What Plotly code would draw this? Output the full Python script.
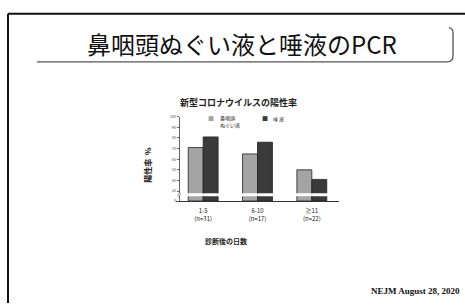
import plotly.graph_objects as go

W, H = 465, 305

categories = ["1-5<br>(n=31)", "6-10<br>(n=17)", "≧11<br>(n=22)"]
nasal = [71, 65, 50]
saliva = [81, 76, 41]
series_names = ["鼻咽頭<br>ぬぐい液", "唾 液"]
ytick_vals = [30, 40, 50, 60, 70, 80, 90, 100]
ytick_text = ["30", "40", "50", "60", "70", "80", "90", "100"]

LIGHT = "#a4a4a4"
DARK = "#3a3a3a"
JP = "Noto Sans CJK JP"


def px(x):
    return x / W


def py(y):
    return 1 - y / H


fig = go.Figure()
for name, vals, col in [(series_names[0], nasal, LIGHT), (series_names[1], saliva, DARK)]:
    # upper segment (broken axis part)
    fig.add_trace(go.Bar(x=categories, y=vals, name=name, marker=dict(color=col, line=dict(color="#222", width=0.8)),
                         xaxis="x2", yaxis="y2", showlegend=False))
    # lower segment near zero
    fig.add_trace(go.Bar(x=categories, y=vals, name=name, marker=dict(color=col, line=dict(color="#222", width=0.8)),
                         xaxis="x", yaxis="y", showlegend=False))

xdom = [px(176), px(339)]
fig.update_layout(
    width=W, height=H,
    margin=dict(l=0, r=0, t=0, b=0),
    paper_bgcolor="white", plot_bgcolor="white",
    barmode="group", bargap=0.45, bargroupgap=0,
    font=dict(family=JP, color="#111"),
    xaxis=dict(domain=xdom, anchor="y", showline=True, linecolor="#333", linewidth=1,
               ticks="", ticklabelstandoff=4, tickfont=dict(size=6, family=JP, color="#222"), showgrid=False),
    xaxis2=dict(domain=xdom, anchor="y2", matches="x", showticklabels=False, showline=False,
                ticks="", showgrid=False),
    yaxis=dict(domain=[py(201), py(196)], range=[0, 5], anchor="free", position=px(179),
               tickvals=[0], ticktext=["0"], ticks="outside", ticklen=2, tickcolor="#666",
               tickfont=dict(size=4, color="#555"), showline=True, linecolor="#666", linewidth=0.8,
               showgrid=False, zeroline=False),
    yaxis2=dict(domain=[py(193), py(115)], range=[28, 100], anchor="free", position=px(179),
                tickvals=ytick_vals, ticktext=ytick_text, ticks="outside", ticklen=2, tickcolor="#666",
                tickfont=dict(size=4, color="#555"), showline=True, linecolor="#666", linewidth=0.8,
                showgrid=False, zeroline=False),
)

shapes = [
    # slide frame
    dict(type="line", xref="paper", yref="paper", x0=px(8), x1=1, y0=py(10), y1=py(10),
         line=dict(color="#111", width=2)),
    dict(type="line", xref="paper", yref="paper", x0=px(8), x1=px(8), y0=py(10), y1=0,
         line=dict(color="#111", width=2)),
    # title box
    dict(type="path", xref="paper", yref="paper",
         path=f"M {px(37)},{py(59)} L {px(447)},{py(59)} Q {px(453)},{py(59)} {px(453)},{py(53)} "
              f"L {px(453)},{py(29)} Q {px(453)},{py(25)} {px(449)},{py(24)}",
         line=dict(color="#555", width=1.3)),
]
fig.update_layout(shapes=shapes)

ann = [
    dict(text="鼻咽頭ぬぐい液と唾液のPCR", x=px(242), y=py(40), font=dict(size=24, family=JP, color="#111")),
    dict(text="<b>新型コロナウイルスの陽性率</b>", x=px(238), y=py(100), font=dict(size=9, family=JP, color="#222")),
    dict(text="<b>診断後の日数</b>", x=px(226), y=py(242), font=dict(size=7, family=JP, color="#222")),
    dict(text="<b>陽性率  %</b>", x=px(148), y=py(164), textangle=-90, font=dict(size=8, family=JP, color="#222")),
    # legend
    dict(text="■", x=px(211), y=py(117), font=dict(size=6, color=LIGHT)),
    dict(text="鼻咽頭<br>ぬぐい液", x=px(218), y=py(120), xanchor="left", align="left",
         font=dict(size=5, family=JP, color="#222")),
    dict(text="■", x=px(265), y=py(117), font=dict(size=6, color=DARK)),
    dict(text="唾 液", x=px(271), y=py(117), xanchor="left", font=dict(size=5, family=JP, color="#222")),
    # axis break mark
    dict(text="≈", x=px(179), y=py(194.5), textangle=-70, font=dict(size=6, color="#444")),
    dict(text="<b>NEJM August 28, 2020</b>", x=px(462), y=py(293), xanchor="right",
         font=dict(size=9, family="Liberation Serif", color="#111")),
]
for a in ann:
    a.setdefault("xref", "paper")
    a.setdefault("yref", "paper")
    a.setdefault("showarrow", False)
    a.setdefault("xanchor", "center")
    a.setdefault("yanchor", "middle")
fig.update_layout(annotations=ann)

fig.write_html("out.html", config={"displayModeBar": False},
               post_script="document.body.style.margin='0';document.body.style.overflow='hidden';")
